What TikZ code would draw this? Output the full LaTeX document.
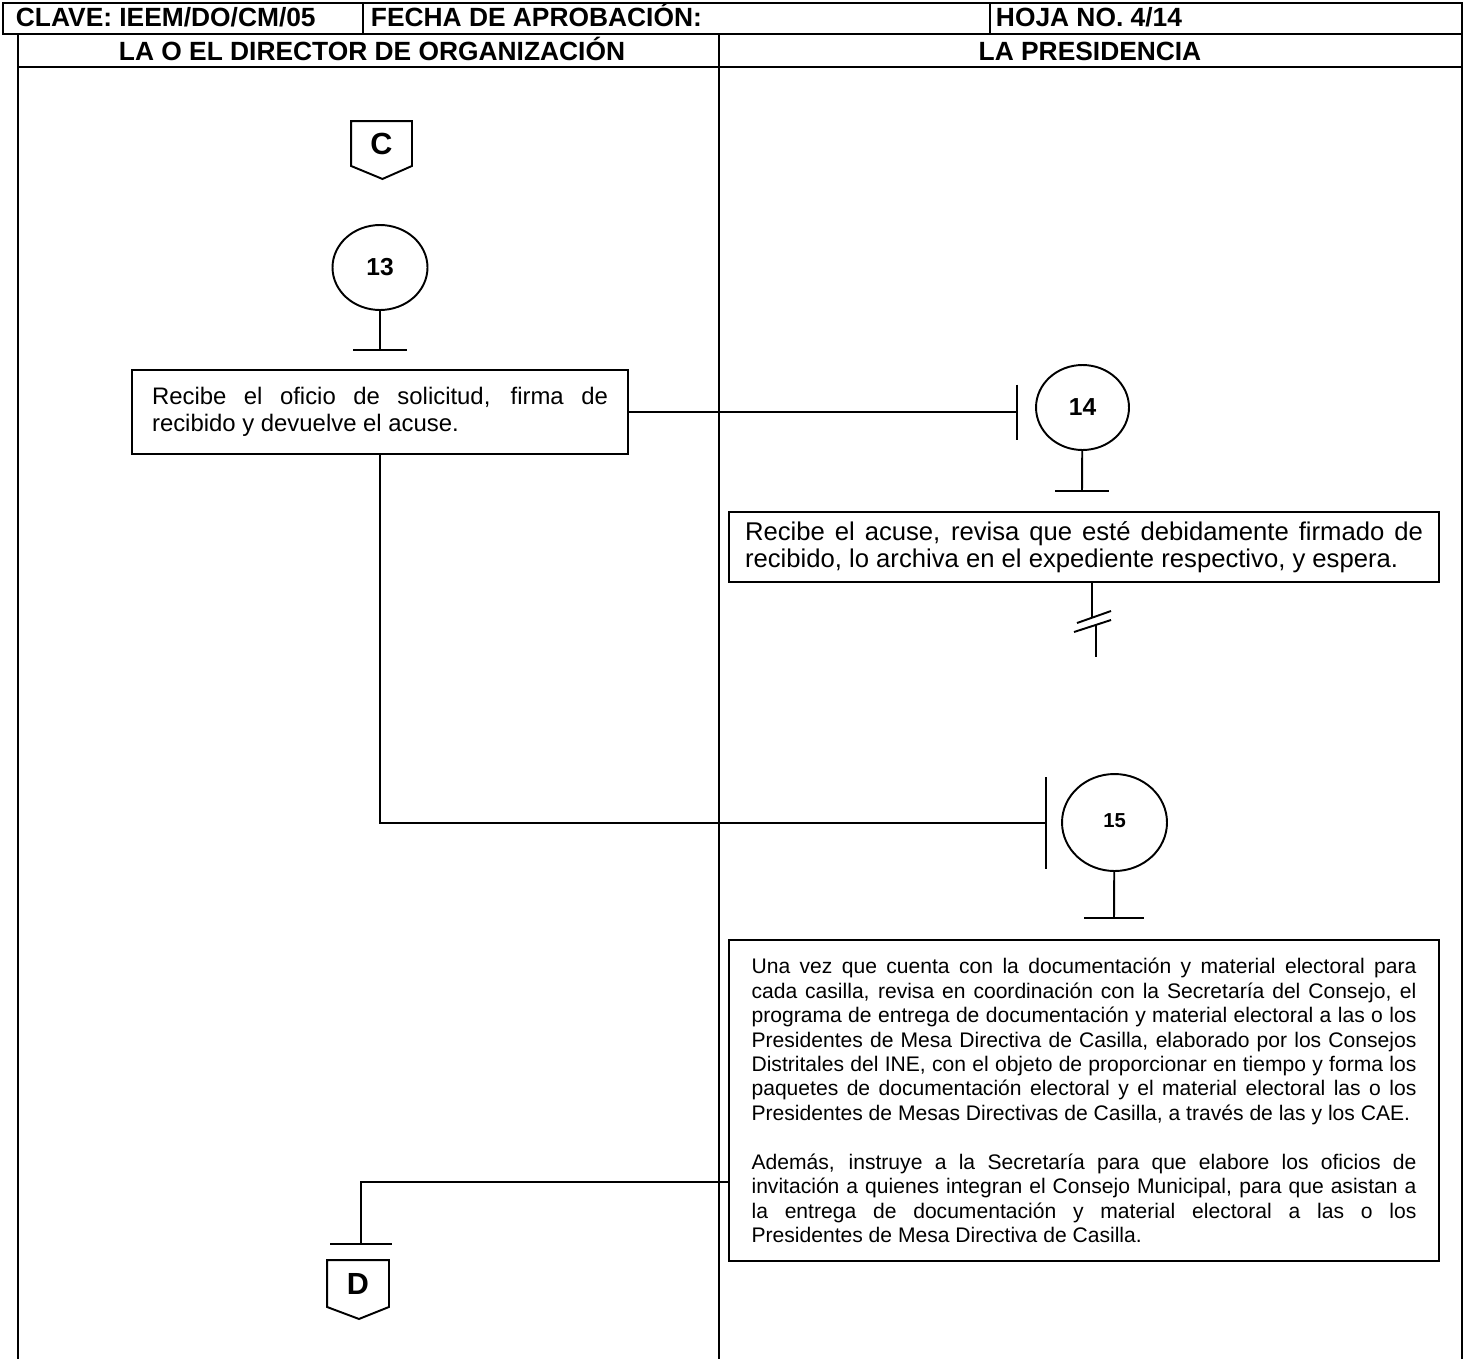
\documentclass[tikz,border=0pt]{standalone}
\usepackage{fontspec}
\setmainfont{Liberation Sans}
\usepackage{tikz}
\usetikzlibrary{shapes.geometric}

\begin{document}
\begin{tikzpicture}[x=0.02cm, y=-0.02cm, line width=1.1pt]
    \tikzstyle{title} = [inner sep=0pt, font=\fontsize{15}{17}\selectfont\bfseries]
    \tikzstyle{block} = [rectangle, draw, inner ysep=0pt, align=justify]
    \tikzstyle{stage} = [ellipse, draw, inner sep=0pt, font=\fontsize{14}{16}\selectfont\bfseries]
    \tikzstyle{offpage} = [inner sep=0pt, font=\fontsize{17.4}{20}\selectfont\bfseries]
    \tikzstyle{line} = [draw]

    \useasboundingbox (0,0) rectangle (1466,1359);

    \draw (3,3) rectangle (1462,34);
    \draw (363,3) -- (363,34);
    \draw (990,3) -- (990,34);
    \draw (18,34) -- (18,1359);
    \draw (1462,34) -- (1462,1359);
    \draw (719,34) -- (719,1359);
    \draw (18,67) -- (1462,67);

    \node [title, anchor=base west] (clave) at (15,27) {CLAVE: IEEM/DO/CM/05};
    \node [title, anchor=base west] (fecha) at (370,27) {FECHA DE APROBACIÓN:};
    \node [title, anchor=base west] (hoja) at (995,27) {HOJA NO. 4/14};
    \node [title, anchor=base] (director) at (372,60) {LA O EL DIRECTOR DE ORGANIZACIÓN};
    \node [title, anchor=base] (presidencia) at (1090,60) {LA PRESIDENCIA};

    \node [offpage, minimum width=1.18cm, minimum height=0.86cm] (c) at (381.5,143.5) {C};
    \draw (c.south west) -- (c.north west) -- (c.north east) -- (c.south east) -- ++(-29.5,13) -- cycle;

    \node [stage, minimum width=1.9cm, minimum height=1.7cm] (act13) at (380,267.5) {13};
    \coordinate (t13) at (380,350);

    \node [block, text width=9.12cm, inner xsep=0.4cm, minimum height=1.68cm,
           font=\fontsize{13.6}{15.4}\selectfont] (oficio) at (380,412)
        {Recibe el oficio de solicitud, firma de\linebreak recibido y devuelve el acuse.};
    \coordinate (b14) at (1017,412);

    \node [stage, minimum width=1.86cm, minimum height=1.7cm] (act14) at (1082.5,407.5) {14};
    \coordinate (t14) at (1082,491);

    \node [block, text width=13.56cm, inner xsep=0.32cm, minimum height=1.4cm,
           font=\fontsize{14.6}{15.6}\selectfont] (acuse) at (1084,547)
        {Recibe el acuse, revisa que esté debidamente firmado de\linebreak recibido, lo archiva en el expediente respectivo, y espera.};
    \coordinate (brk) at (1092,617);

    \coordinate (k15) at (380,823);
    \coordinate (b15) at (1046,823);
    \node [stage, minimum width=2.1cm, minimum height=1.94cm, font=\fontsize{11.5}{14}\selectfont\bfseries] (act15) at (1114.5,822.5) {\raisebox{2.8pt}{15}};
    \coordinate (t15) at (1114,918);

    \node [block, text width=13.3cm, inner xsep=0.45cm, minimum height=6.42cm,
           font=\fontsize{12}{13.9}\selectfont] (programa) at (1084,1100.5)
        {Una vez que cuenta con la documentación y material electoral para\linebreak
         cada casilla, revisa en coordinación con la Secretaría del Consejo, el\linebreak
         programa de entrega de documentación y material electoral a las o los\linebreak
         Presidentes de Mesa Directiva de Casilla, elaborado por los Consejos\linebreak
         Distritales del INE, con el objeto de proporcionar en tiempo y forma los\linebreak
         paquetes de documentación electoral y el material electoral las o los\linebreak
         Presidentes de Mesas Directivas de Casilla, a través de las y los CAE.\par
         \vspace{\baselineskip}
         Además, instruye a la Secretaría para que elabore los oficios de\linebreak
         invitación a quienes integran el Consejo Municipal, para que asistan a\linebreak
         la entrega de documentación y material electoral a las o los\linebreak
         Presidentes de Mesa Directiva de Casilla.};
    \coordinate (k16) at (361,1182);
    \coordinate (t16) at (361,1244);

    \node [offpage, minimum width=1.2cm, minimum height=0.9cm] (d) at (358,1283.5) {D};
    \draw (d.south west) -- (d.north west) -- (d.north east) -- (d.south east) -- ++(-30,12) -- cycle;

    \path [line] (act13) -- (t13);
    \path [line] (t13) ++(-27,0) -- ++(54,0);
    \path [line] (oficio) -- (b14);
    \path [line] (b14) ++(0,-27.5) -- ++(0,55);
    \path [line] (act14) -- (t14);
    \path [line] (t14) ++(-27,0) -- ++(54,0);
    \path [line] (brk |- acuse.south) -- (brk);
    \path [line] (brk) ++(-15,6) -- ++(34,-12);
    \path [line] (brk) ++(-18,15) -- ++(37,-12);
    \path [line] (brk) ++(4,8) -- ++(0,32);
    \path [line] (oficio) -- (k15) -- (b15);
    \path [line] (b15) ++(0,-46) -- ++(0,92);
    \path [line] (act15) -- (t15);
    \path [line] (t15) ++(-30,0) -- ++(60,0);
    \path [line] (programa.west |- k16) -- (k16) -- (t16);
    \path [line] (t16) ++(-31,0) -- ++(62,0);
\end{tikzpicture}
\end{document}
